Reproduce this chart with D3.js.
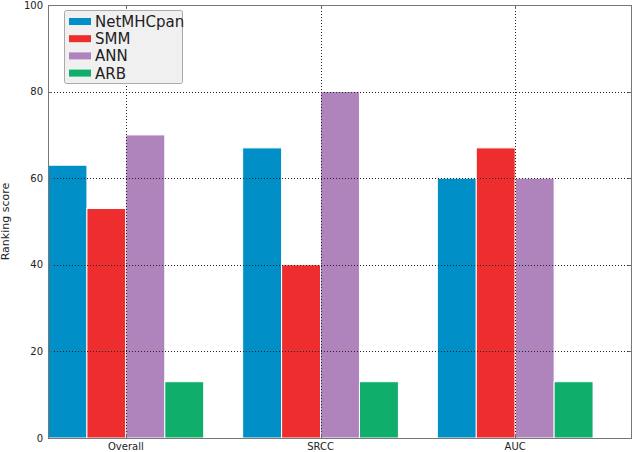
<!DOCTYPE html>
<html><head><meta charset="utf-8">
<script src="https://cdn.jsdelivr.net/npm/d3@7/dist/d3.min.js"></script>
<style>body{margin:0;background:#fff;} svg{display:block;font-family:"DejaVu Sans",sans-serif;}</style>
</head><body>
<svg id="c" width="633" height="452"></svg>
<script>
const categories = ["Overall", "SRCC", "AUC"];
const seriesNames = ["NetMHCpan", "SMM", "ANN", "ARB"];
const netmhcpan = [63, 67, 60];
const smm = [53, 40, 67];
const ann = [70, 80, 60];
const arb = [13, 13, 13];
const yTicks = [0, 20, 40, 60, 80, 100];
const colors = ["#008fc6", "#ee2d2e", "#af84bc", "#0faf6b"];
const seriesValues = [netmhcpan, smm, ann, arb];

const svg = d3.select("#c");
const L = 48, R = 632, T = 5, B = 438;
const x = d3.scaleLinear().domain([-0.4, 2.6]).range([L, R]);
const y = d3.scaleLinear().domain([0, 100]).range([B, T]);
const bw = 0.2;

// bars
seriesValues.forEach((vals, s) => {
  svg.append("g").selectAll("rect").data(vals).join("rect")
    .attr("x", (d, i) => x(i - 0.4 + s * bw))
    .attr("width", x(bw) - x(0))
    .attr("y", d => y(d))
    .attr("height", d => y(0) - y(d))
    .attr("fill", colors[s])
    .attr("stroke", "#ffffff").attr("stroke-width", 1);
});

// grid
const grid = svg.append("g").attr("stroke", "#222").attr("stroke-width", 1).attr("stroke-dasharray", "1,2");
yTicks.filter(t => t > 0 && t < 100).forEach(t => {
  grid.append("line").attr("x1", L).attr("x2", R).attr("y1", Math.round(y(t)) + 0.5).attr("y2", Math.round(y(t)) + 0.5);
});
categories.forEach((c, i) => {
  grid.append("line").attr("x1", Math.round(x(i)) + 0.5).attr("x2", Math.round(x(i)) + 0.5).attr("y1", T).attr("y2", B);
});

// ticks inside
const tk = svg.append("g").attr("stroke", "#666").attr("stroke-width", 1);
yTicks.forEach(t => {
  const yy = Math.round(y(t)) + 0.5;
  tk.append("line").attr("x1", L).attr("x2", L + 4).attr("y1", yy).attr("y2", yy);
  tk.append("line").attr("x1", R - 4).attr("x2", R).attr("y1", yy).attr("y2", yy);
});
categories.forEach((c, i) => {
  const xx = Math.round(x(i)) + 0.5;
  tk.append("line").attr("x1", xx).attr("x2", xx).attr("y1", B).attr("y2", B - 4);
  tk.append("line").attr("x1", xx).attr("x2", xx).attr("y1", T).attr("y2", T + 4);
});

// frame
svg.append("rect").attr("x", L + 0.5).attr("y", T + 0.5).attr("width", R - L - 1).attr("height", B - T)
  .attr("fill", "none").attr("stroke", "#777").attr("stroke-width", 1);

// tick labels
svg.append("g").selectAll("text").data(yTicks).join("text")
  .attr("x", L - 5).attr("y", d => y(d)).attr("dy", "0.35em")
  .attr("text-anchor", "end").attr("font-size", 10).attr("fill", "#222").text(d => d);
svg.append("g").selectAll("text").data(categories).join("text")
  .attr("x", (d, i) => x(i)).attr("y", 450)
  .attr("text-anchor", "middle").attr("font-size", 10).attr("fill", "#222").text(d => d);

// y label
svg.append("text").attr("transform", `translate(9,${(T + B) / 2}) rotate(-90)`)
  .attr("text-anchor", "middle").attr("font-size", 11).attr("fill", "#222").text("Ranking score");

// legend
const lg = svg.append("g");
lg.append("rect").attr("x", 64.5).attr("y", 10.5).attr("width", 118).attr("height", 73).attr("rx", 2)
  .attr("fill", "#f0f0f0").attr("stroke", "#aaa").attr("stroke-width", 1);
seriesNames.forEach((n, i) => {
  const cy = 21.5 + i * 17.2;
  lg.append("rect").attr("x", 69).attr("y", cy - 3.5).attr("width", 22).attr("height", 7).attr("fill", colors[i]);
  lg.append("text").attr("x", 95).attr("y", cy).attr("dy", "0.36em").attr("font-size", 15).attr("fill", "#222").text(n);
});
</script>
</body></html>
